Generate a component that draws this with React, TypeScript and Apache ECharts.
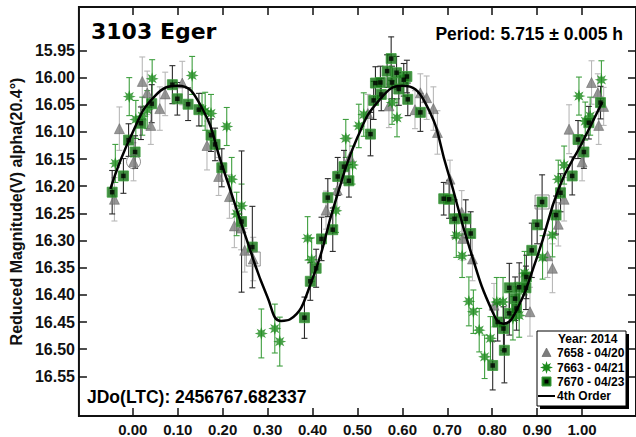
import React, { useEffect, useRef } from "react";
import * as echarts from "echarts";

// ---- tick labels ----
const xTicks = [0.0, 0.1, 0.2, 0.3, 0.4, 0.5, 0.6, 0.7, 0.8, 0.9, 1.0];
const yTicks = [15.95, 16.0, 16.05, 16.1, 16.15, 16.2, 16.25, 16.3, 16.35, 16.4, 16.45, 16.5, 16.55];

// ---- 4th order fit ----
const fitPhase = [-0.05, 0.0, 0.05, 0.1, 0.15, 0.2, 0.25, 0.3, 0.33, 0.35, 0.4, 0.45, 0.5, 0.55, 0.6, 0.65, 0.7, 0.75, 0.8, 0.825, 0.85, 0.9, 0.95, 1.0, 1.045];
const fitMag = [16.205, 16.1, 16.033, 16.015, 16.05, 16.165, 16.29, 16.405, 16.448, 16.445, 16.37, 16.23, 16.11, 16.04, 16.015, 16.045, 16.17, 16.315, 16.43, 16.453, 16.435, 16.33, 16.2, 16.12, 16.045];

// ---- 7658 - 04/20 (grey triangles) ----
const phase7658 = [-0.041, -0.03, 0.0015, 0.021, 0.032, 0.04, 0.06, 0.072, 0.11, 0.165, 0.191, 0.215, 0.226, 0.241, 0.249, 0.268, 0.43, 0.455, 0.483, 0.523, 0.57, 0.628, 0.64, 0.654, 0.669, 0.678, 0.706, 0.732, 0.734, 0.756, 0.804, 0.884, 0.923, 0.934, 0.947, 0.96, 0.971, 1.0, 1.021, 1.035, 1.037, 1.048];
const mag7658 = [16.224, 16.094, 16.155, 16.007, 16.028, 16.088, 16.057, 16.03, 16.01, 16.125, 16.182, 16.219, 16.273, 16.277, 16.318, 16.334, 16.244, 16.207, 16.146, 16.066, 16.052, 16.059, 16.028, 16.037, 16.057, 16.101, 16.187, 16.248, 16.296, 16.334, 16.419, 16.431, 16.328, 16.351, 16.27, 16.224, 16.095, 16.155, 16.009, 16.028, 16.088, 16.053];
const err7658 = [0.04, 0.04, 0.035, 0.045, 0.04, 0.035, 0.04, 0.04, 0.04, 0.045, 0.035, 0.04, 0.04, 0.04, 0.04, 0.04, 0.035, 0.035, 0.035, 0.035, 0.04, 0.035, 0.035, 0.04, 0.04, 0.04, 0.035, 0.04, 0.04, 0.04, 0.04, 0.045, 0.04, 0.045, 0.04, 0.04, 0.045, 0.035, 0.04, 0.035, 0.035, 0.035];

// ---- 7663 - 04/21 (green asterisks) ----
const phase7663 = [-0.039, -0.008, 0.0066, 0.021, 0.032, 0.043, 0.132, 0.154, 0.161, 0.174, 0.209, 0.22, 0.231, 0.242, 0.286, 0.316, 0.327, 0.389, 0.398, 0.452, 0.474, 0.489, 0.503, 0.514, 0.577, 0.588, 0.72, 0.733, 0.748, 0.758, 0.771, 0.783, 0.796, 0.81, 0.824, 0.846, 0.86, 0.872, 0.912, 0.934, 0.947, 0.96, 0.993, 1.007, 1.018, 1.043];
const mag7663 = [16.158, 16.035, 16.077, 16.071, 16.059, 16.002, 15.996, 16.059, 16.062, 16.066, 16.09, 16.187, 16.251, 16.236, 16.471, 16.462, 16.486, 16.296, 16.335, 16.245, 16.112, 16.161, 16.089, 16.068, 16.046, 16.074, 16.291, 16.328, 16.412, 16.431, 16.465, 16.514, 16.48, 16.413, 16.413, 16.443, 16.438, 16.36, 16.331, 16.29, 16.187, 16.161, 16.034, 16.08, 16.071, 16.004];
const err7663 = [0.035, 0.035, 0.035, 0.035, 0.035, 0.035, 0.035, 0.03, 0.035, 0.035, 0.035, 0.04, 0.04, 0.04, 0.045, 0.045, 0.045, 0.04, 0.04, 0.04, 0.035, 0.035, 0.04, 0.04, 0.04, 0.035, 0.04, 0.04, 0.045, 0.04, 0.04, 0.04, 0.04, 0.045, 0.045, 0.04, 0.04, 0.04, 0.04, 0.04, 0.035, 0.035, 0.035, 0.035, 0.035, 0.035];

// ---- 7670 - 04/23 (green squares) ----
const phase7670 = [-0.046, -0.021, -0.0095, 0.005, 0.018, 0.042, 0.088, 0.099, 0.123, 0.147, 0.174, 0.183, 0.198, 0.242, 0.266, 0.382, 0.395, 0.408, 0.42, 0.434, 0.445, 0.456, 0.47, 0.481, 0.529, 0.536, 0.54, 0.551, 0.553, 0.566, 0.575, 0.577, 0.587, 0.592, 0.603, 0.61, 0.612, 0.64, 0.692, 0.704, 0.716, 0.741, 0.752, 0.801, 0.812, 0.825, 0.827, 0.838, 0.838, 0.851, 0.854, 0.86, 0.875, 0.876, 0.888, 0.9, 0.911, 0.942, 0.952, 0.978, 0.991, 1.004, 1.015, 1.041];
const mag7670 = [16.211, 16.181, 16.115, 16.137, 16.084, 16.048, 16.013, 16.039, 16.049, 16.059, 16.106, 16.123, 16.166, 16.265, 16.312, 16.442, 16.375, 16.351, 16.297, 16.221, 16.28, 16.182, 16.164, 16.19, 16.104, 16.042, 16.01, 16.009, 16.031, 15.988, 15.965, 16.009, 15.991, 16.021, 16.004, 15.998, 16.04, 16.064, 16.223, 16.224, 16.26, 16.26, 16.287, 16.53, 16.45, 16.462, 16.502, 16.387, 16.434, 16.407, 16.425, 16.386, 16.387, 16.367, 16.318, 16.271, 16.229, 16.253, 16.212, 16.181, 16.114, 16.137, 16.083, 16.046];
const err7670 = [0.04, 0.032, 0.03, 0.03, 0.03, 0.035, 0.035, 0.03, 0.03, 0.03, 0.03, 0.03, 0.035, 0.13, 0.075, 0.038, 0.035, 0.035, 0.04, 0.035, 0.04, 0.035, 0.03, 0.03, 0.04, 0.035, 0.03, 0.03, 0.03, 0.03, 0.04, 0.03, 0.03, 0.03, 0.03, 0.03, 0.03, 0.035, 0.03, 0.035, 0.035, 0.035, 0.04, 0.045, 0.035, 0.04, 0.06, 0.045, 0.04, 0.04, 0.04, 0.045, 0.04, 0.04, 0.05, 0.035, 0.05, 0.035, 0.035, 0.035, 0.035, 0.03, 0.03, 0.03];

// ---- points circled / boxed in the original plot ----
const circledPhase = [0.0015];
const circledMag = [16.155];
const boxedPhase = [0.268, 0.911];
const boxedMag = [16.334, 16.229];

const titleText = "3103 Eger";
const periodText = "Period: 5.715 ± 0.005 h";
const jdText = "JDo(LTC): 2456767.682337";
const yName = "Reduced Magnitude(V) alpha(20.4°)";
const legendTitle = "Year: 2014";
const legendNames = ["7658 - 04/20", "7663 - 04/21", "7670 - 04/23", "4th Order"];

const FONT = "'Liberation Sans', Arial, sans-serif";

function starPoints(cx: number, cy: number, rO: number, rI: number): number[][] {
  const pts: number[][] = [];
  for (let k = 0; k < 16; k++) {
    const a = (Math.PI * 2 * k) / 16 - Math.PI / 2;
    const r = k % 2 === 0 ? rO : rI;
    pts.push([cx + r * Math.cos(a), cy + r * Math.sin(a)]);
  }
  return pts;
}
const starSymbol =
  "path://" +
  starPoints(50, 50, 50, 24)
    .map((p, i) => (i === 0 ? "M" : "L") + p[0].toFixed(2) + " " + p[1].toFixed(2))
    .join(" ") +
  " Z";

function errorBars(phases: number[], mags: number[], errs: number[], color: string, z: number) {
  return {
    type: "custom",
    z,
    silent: true,
    clip: true,
    data: phases.map((p, i) => [p, mags[i] - errs[i], mags[i] + errs[i]]),
    encode: { x: 0, y: [1, 2] },
    renderItem: (_params: any, api: any) => {
      const x = api.value(0);
      const lo = api.coord([x, api.value(1)]);
      const hi = api.coord([x, api.value(2)]);
      const cw = 3;
      const st = { stroke: color, lineWidth: 1.1 };
      return {
        type: "group",
        children: [
          { type: "line", shape: { x1: lo[0], y1: lo[1], x2: hi[0], y2: hi[1] }, style: st },
          { type: "line", shape: { x1: lo[0] - cw, y1: lo[1], x2: lo[0] + cw, y2: lo[1] }, style: st },
          { type: "line", shape: { x1: hi[0] - cw, y1: hi[1], x2: hi[0] + cw, y2: hi[1] }, style: st },
        ],
      };
    },
  };
}

const pairs = (xs: number[], ys: number[]) => xs.map((x, i) => [x, ys[i]]);

export default function App() {
  const ref = useRef<HTMLDivElement>(null);
  useEffect(() => {
    if (!ref.current) return;
    const chart = echarts.init(ref.current, undefined, { renderer: "svg" });
    const xMin = -0.12, xMax = 1.12, yMin = 15.87, yMax = 16.623;
    const lx = 537, ly = 331, lw = 89, lh = 75;
    const starLegend = starPoints(546.5, 367.5, 6.5, 3);
    const noLine = { show: false, onZero: false };
    const tick = { show: true, inside: true, length: 8, lineStyle: { color: "#111", width: 1.5 } };
    const option: any = {
      animation: false,
      backgroundColor: "#fff",
      grid: { left: 75, top: 7, width: 562, height: 411, show: true, borderColor: "#111", borderWidth: 2, backgroundColor: "transparent" },
      xAxis: [
        {
          type: "value", min: xMin, max: xMax, position: "bottom",
          axisLine: noLine, splitLine: { show: false },
          axisTick: { ...tick, customValues: xTicks },
          axisLabel: { show: true, customValues: xTicks, margin: 6, formatter: (v: number) => v.toFixed(2), fontFamily: FONT, fontWeight: "bold", fontSize: 15, color: "#111" },
        },
        {
          type: "value", min: xMin, max: xMax, position: "top",
          axisLine: noLine, splitLine: { show: false },
          axisTick: { ...tick, customValues: xTicks },
          axisLabel: { show: false },
        },
      ],
      yAxis: [
        {
          type: "value", min: yMin, max: yMax, inverse: true, position: "left",
          axisLine: noLine, splitLine: { show: false },
          axisTick: { ...tick, customValues: yTicks },
          axisLabel: { show: true, customValues: yTicks, margin: 4, formatter: (v: number) => v.toFixed(2), fontFamily: FONT, fontWeight: "bold", fontSize: 16, color: "#111" },
          name: yName, nameLocation: "middle", nameGap: 50, nameRotate: 90,
          nameTextStyle: { fontFamily: FONT, fontWeight: "bold", fontSize: 16, color: "#111" },
        },
        {
          type: "value", min: yMin, max: yMax, inverse: true, position: "right",
          axisLine: noLine, splitLine: { show: false },
          axisTick: { ...tick, customValues: yTicks },
          axisLabel: { show: false },
        },
      ],
      series: [
        errorBars(phase7658, mag7658, err7658, "#b8b8b8", 2),
        errorBars(phase7663, mag7663, err7663, "#3f9f3f", 2),
        errorBars(phase7670, mag7670, err7670, "#2a2a2a", 2),
        {
          type: "scatter", name: legendNames[0], z: 3, data: pairs(phase7658, mag7658),
          symbol: "triangle", symbolSize: 10,
          itemStyle: { color: "#7c7c7c", borderColor: "#5a5a5a", borderWidth: 0.6 },
        },
        {
          type: "scatter", name: legendNames[1], z: 4, data: pairs(phase7663, mag7663),
          symbol: starSymbol, symbolSize: 13,
          itemStyle: { color: "#1a8a1a" },
        },
        {
          type: "scatter", name: legendNames[2], z: 5, data: pairs(phase7670, mag7670),
          symbol: "rect", symbolSize: 10,
          itemStyle: { color: "#127012", borderColor: "#3c9c3c", borderWidth: 1 },
        },
        {
          type: "scatter", z: 6, data: pairs(phase7670, mag7670),
          symbol: "rect", symbolSize: 4.5, itemStyle: { color: "#000" },
        },
        {
          type: "scatter", z: 6, data: pairs(circledPhase, circledMag),
          symbol: "circle", symbolSize: 14, itemStyle: { color: "none", borderColor: "#777", borderWidth: 1 },
        },
        {
          type: "scatter", z: 6, data: pairs(boxedPhase, boxedMag),
          symbol: "rect", symbolSize: 14, itemStyle: { color: "none", borderColor: "#777", borderWidth: 1 },
        },
        {
          type: "line", name: legendNames[3], z: 7, data: pairs(fitPhase, fitMag),
          smooth: 0.5, symbol: "none", lineStyle: { color: "#000", width: 2.5 },
        },
      ],
      graphic: [
        { type: "text", left: 91, top: 20, style: { text: titleText, fontFamily: "'DejaVu Sans', sans-serif", fontWeight: "bold", fontSize: 22, fill: "#000" } },
        { type: "text", right: 13, top: 25, style: { text: periodText, fontFamily: FONT, fontWeight: "bold", fontSize: 17.5, fill: "#000" } },
        { type: "text", left: 87, top: 388, style: { text: jdText, fontFamily: FONT, fontWeight: "bold", fontSize: 17.5, fill: "#000" } },
        { type: "rect", shape: { x: lx + 3, y: ly + 3, width: lw, height: lh }, style: { fill: "#000" }, z: 20 },
        { type: "rect", shape: { x: lx, y: ly, width: lw, height: lh }, style: { fill: "#fff", stroke: "#000", lineWidth: 1 }, z: 21 },
        { type: "text", x: 558, y: 339, z: 22, style: { text: legendTitle, fontFamily: FONT, fontWeight: "bold", fontSize: 12, fill: "#000", verticalAlign: "middle" } },
        { type: "polygon", z: 22, shape: { points: [[546.5, 348], [551, 356.5], [542, 356.5]] }, style: { fill: "#7c7c7c", stroke: "#5a5a5a", lineWidth: 0.6 } },
        { type: "text", x: 557, y: 353, z: 22, style: { text: legendNames[0], fontFamily: FONT, fontWeight: "bold", fontSize: 12, fill: "#000", verticalAlign: "middle" } },
        { type: "polygon", z: 22, shape: { points: starLegend }, style: { fill: "#1a8a1a" } },
        { type: "text", x: 557, y: 367.5, z: 22, style: { text: legendNames[1], fontFamily: FONT, fontWeight: "bold", fontSize: 12, fill: "#000", verticalAlign: "middle" } },
        { type: "rect", z: 22, shape: { x: 542, y: 377, width: 9, height: 9 }, style: { fill: "#127012", stroke: "#3c9c3c", lineWidth: 1 } },
        { type: "rect", z: 23, shape: { x: 544.5, y: 379.5, width: 4, height: 4 }, style: { fill: "#000" } },
        { type: "text", x: 557, y: 381.5, z: 22, style: { text: legendNames[2], fontFamily: FONT, fontWeight: "bold", fontSize: 12, fill: "#000", verticalAlign: "middle" } },
        { type: "line", z: 22, shape: { x1: 538, y1: 396, x2: 555, y2: 396 }, style: { stroke: "#000", lineWidth: 2 } },
        { type: "text", x: 557, y: 396, z: 22, style: { text: legendNames[3], fontFamily: FONT, fontWeight: "bold", fontSize: 12, fill: "#000", verticalAlign: "middle" } },
      ],
    };
    chart.setOption(option);
    return () => chart.dispose();
  }, []);
  return <div ref={ref} style={{ position: "fixed", left: 0, top: 0, width: 636, height: 437, background: "#fff" }} />;
}
